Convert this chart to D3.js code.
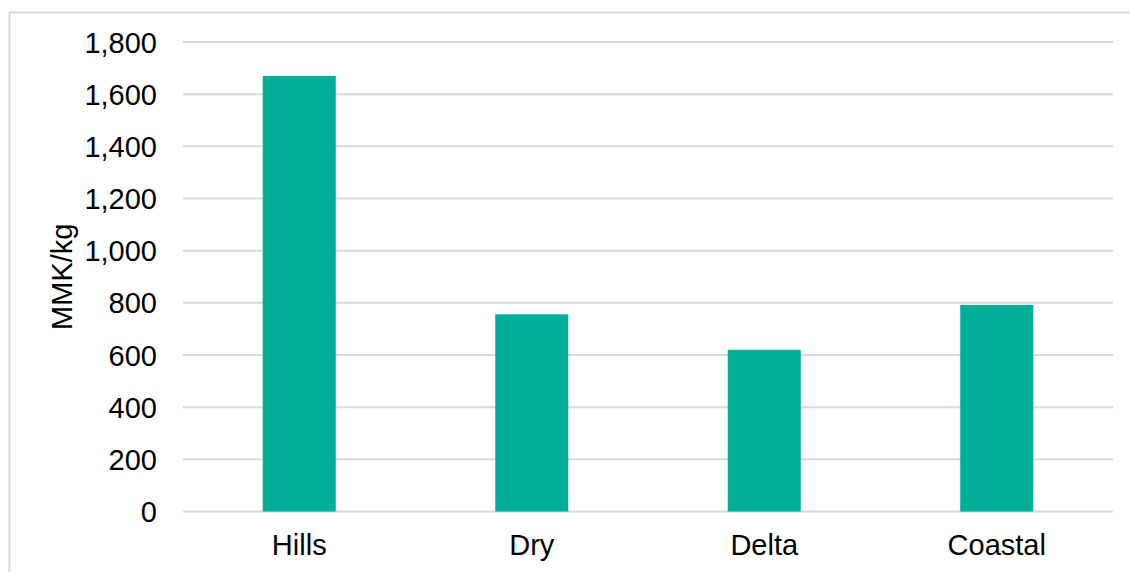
<!DOCTYPE html>
<html>
<head>
	<meta charset="utf-8">
	<script src="https://cdn.jsdelivr.net/npm/d3@7"></script>
	<style>
		body { margin: 0; background: #fff; }
		svg { display: block; font-family: Arial, "Liberation Sans", sans-serif; }
	</style>
</head>
<body>
	<div id="chart"></div>
	<script type="text/javascript">
		"use strict";
		// values
		var regions = ["Hills", "Dry", "Delta", "Coastal"];
		var prices = [1670, 756, 620, 792];
		var yTicks = [0, 200, 400, 600, 800, 1000, 1200, 1400, 1600, 1800];
		var yTitle = "MMK/kg";

		var width = 1130, height = 572;
		var plot = {left: 183, right: 1113, top: 42, bottom: 511.5};
		var fontSize = "29px";

		var svg = d3.select("#chart")
			.append("svg")
			.attr("width", width)
			.attr("height", height);

		// outer chart border (runs off the right and bottom edges)
		svg.append("rect")
			.attr("x", 9.5)
			.attr("y", 12.5)
			.attr("width", width + 20)
			.attr("height", height + 20)
			.attr("fill", "none")
			.attr("stroke", "#d9d9d9")
			.attr("stroke-width", 2);

		var x = d3.scaleBand()
			.domain(regions)
			.range([plot.left, plot.right]);

		var y = d3.scaleLinear()
			.domain([0, 1800])
			.range([plot.bottom, plot.top]);

		// gridlines
		svg.append("g")
			.selectAll("line")
			.data(yTicks)
			.enter().append("line")
			.attr("x1", plot.left)
			.attr("x2", plot.right)
			.attr("y1", function(d){ return y(d); })
			.attr("y2", function(d){ return y(d); })
			.attr("stroke", "#d9d9d9")
			.attr("stroke-width", 2);

		// bars, gap width ~219% like excel
		var barW = x.bandwidth() * 0.314;
		svg.append("g")
			.selectAll("rect")
			.data(prices)
			.enter().append("rect")
			.attr("x", function(d, i){ return x(regions[i]) + (x.bandwidth() - barW) / 2; })
			.attr("y", function(d){ return y(d); })
			.attr("width", barW)
			.attr("height", function(d){ return y(0) - y(d); })
			.attr("fill", "#00ae99");

		// y axis labels
		var yAxis = d3.axisLeft(y)
			.tickValues(yTicks)
			.tickSize(0)
			.tickPadding(0)
			.tickFormat(d3.format(","));
		var gy = svg.append("g")
			.attr("transform", "translate(157,0)")
			.call(yAxis);
		gy.select(".domain").remove();
		gy.selectAll("text")
			.attr("dy", "0.35em")
			.style("font-size", fontSize)
			.style("font-family", "Arial, 'Liberation Sans', sans-serif")
			.attr("fill", "#000");

		// x axis labels
		var xAxis = d3.axisBottom(x).tickSize(0).tickPadding(0);
		var gx = svg.append("g")
			.attr("transform", "translate(0,555)")
			.call(xAxis);
		gx.select(".domain").remove();
		gx.selectAll("text")
			.attr("dy", 0)
			.attr("y", 0)
			.style("font-size", fontSize)
			.style("font-family", "Arial, 'Liberation Sans', sans-serif")
			.attr("fill", "#000");

		// y axis title
		svg.append("text")
			.attr("transform", "translate(72," + ((plot.top + plot.bottom) / 2) + ") rotate(-90)")
			.style("text-anchor", "middle")
			.style("font-size", fontSize)
			.text(yTitle);
	</script>
</body>
</html>
